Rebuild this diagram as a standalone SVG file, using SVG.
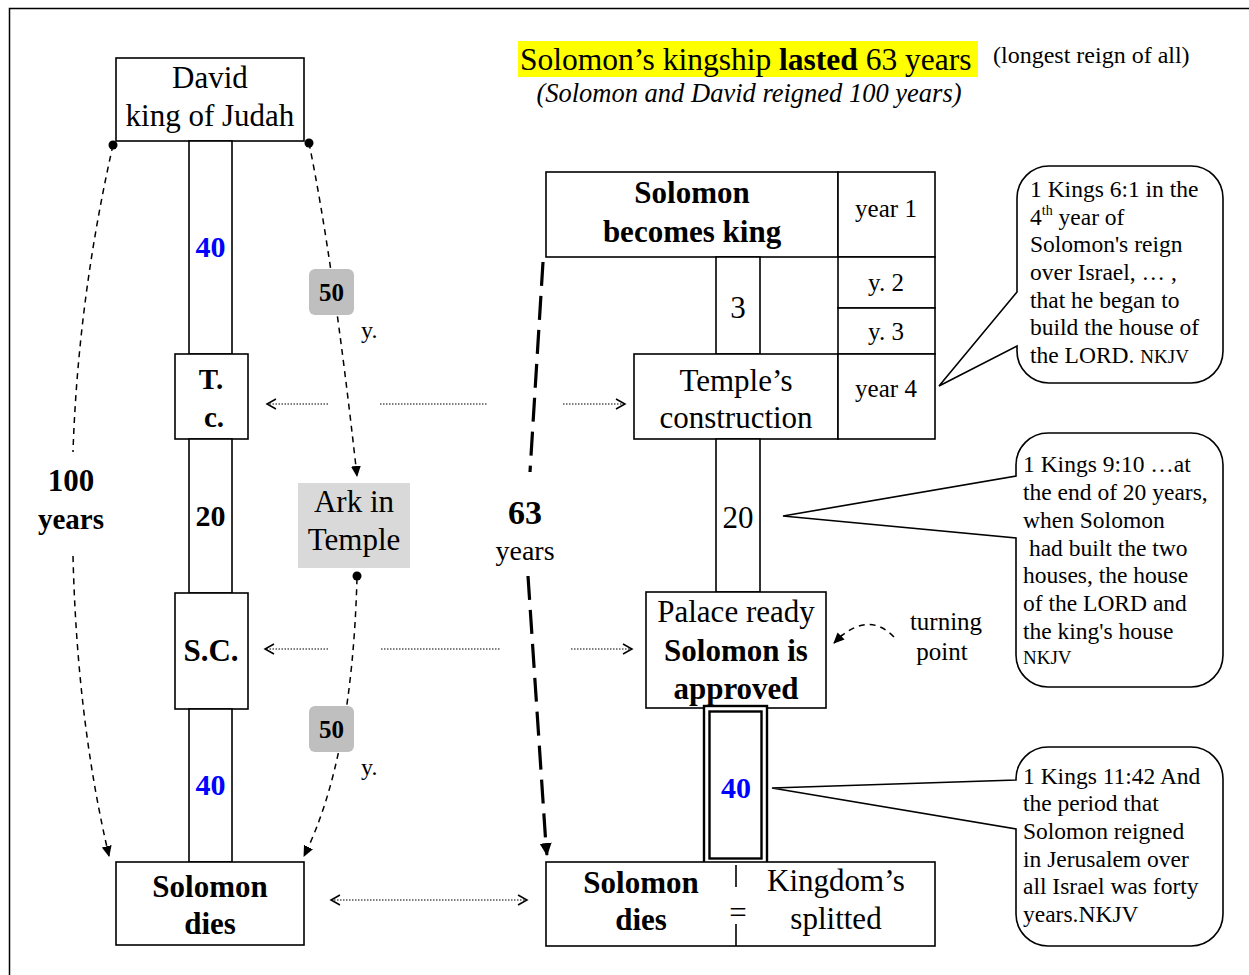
<svg xmlns="http://www.w3.org/2000/svg" width="1249" height="975" viewBox="0 0 1249 975">
<style>
text{font-family:"Liberation Serif","Times New Roman",serif;fill:#000}
.b{font-weight:bold}
.c{text-anchor:middle}
.big{font-size:31px}
.med{font-size:25px}
.note{font-size:23.5px}
.small{font-size:19px}
.blue{fill:#0000ff}
.box{fill:#fff;stroke:#000;stroke-width:1.6}
.dbl{fill:#fff;stroke:#000;stroke-width:2.4}
.dash{fill:none;stroke:#000;stroke-width:1.5;stroke-dasharray:6 5}
.dot{fill:none;stroke:#000;stroke-width:1.2;stroke-dasharray:1.5 1.5}
.thick{fill:none;stroke:#000;stroke-width:3.2;stroke-dasharray:24 10}
.call{fill:#fff;stroke:#000;stroke-width:1.6}
</style>
<defs>
<marker id="open" markerWidth="12" markerHeight="12" refX="10" refY="6" orient="auto-start-reverse" markerUnits="userSpaceOnUse">
<path d="M1,1 L10,6 L1,11" fill="none" stroke="#000" stroke-width="1.5"/>
</marker>
<marker id="fill" markerWidth="12" markerHeight="12" refX="10" refY="6" orient="auto" markerUnits="userSpaceOnUse">
<path d="M0,1 L11,6 L0,11 Z" fill="#000"/>
</marker>
<marker id="fillbig" markerWidth="14" markerHeight="14" refX="12" refY="7" orient="auto" markerUnits="userSpaceOnUse">
<path d="M0,1 L13,7 L0,13 Z" fill="#000"/>
</marker>
</defs>
<rect width="1249" height="975" fill="#fff"/>
<rect x="9.5" y="8.5" width="1300" height="1100" fill="none" stroke="#000" stroke-width="1.5"/>

<g id="title">
<rect x="518" y="41" width="460" height="36" fill="#ffff00"/>
<text x="520" y="70" font-size="31.5">Solomon’s kingship <tspan class="b">lasted</tspan> 63 years</text>
<text x="993" y="63" font-size="24">(longest reign of all)</text>
<text x="749" y="102" class="c" font-size="26.5" font-style="italic">(Solomon and David reigned 100 years)</text>
</g>

<g id="connectors">
<circle cx="113" cy="145" r="4.5" fill="#000"/>
<circle cx="309" cy="143" r="4.5" fill="#000"/>
<circle cx="357" cy="576" r="4.5" fill="#000"/>
<path class="dash" d="M113,145 Q78,300 73,452"/>
<path class="dash" d="M73,556 Q77,720 109,856" marker-end="url(#fill)"/>
<path class="dash" d="M309,143 Q333,260 357,476" marker-end="url(#fill)"/>
<path class="dash" d="M357,578 Q352,760 304,856" marker-end="url(#fill)"/>
<path class="thick" d="M543,262 L530,472"/>
<path class="thick" d="M528,576 L546,846"/>
<path d="M546,846 L547,855" stroke="#000" stroke-width="3" marker-end="url(#fillbig)"/>
<path class="dot" d="M328,404 L267,404" marker-end="url(#open)"/>
<path class="dot" d="M380,404 L488,404"/>
<path class="dot" d="M563,404 L625,404" marker-end="url(#open)"/>
<path class="dot" d="M328,649 L265,649" marker-end="url(#open)"/>
<path class="dot" d="M381,649 L500,649"/>
<path class="dot" d="M571,649 L632,649" marker-end="url(#open)"/>
<path class="dot" d="M331,900 L527,900" marker-start="url(#open)" marker-end="url(#open)"/>
<path d="M894,637 Q870,612 840,637" fill="none" stroke="#000" stroke-width="1.5" stroke-dasharray="6 5"/>
<path d="M842,635 L834,643" stroke="#000" stroke-width="1.5" marker-end="url(#fill)"/>
</g>

<g id="david">
<rect class="box" x="116" y="58" width="188" height="83"/>
<text class="c big" x="210" y="88">David</text>
<text class="c big" x="210" y="126">king of Judah</text>
</g>
<g id="bar-left-40">
<rect class="box" x="189" y="141" width="43" height="213"/>
<text class="c b blue" font-size="30" x="210.5" y="257">40</text>
</g>
<g id="tc">
<rect class="box" x="175" y="354" width="73" height="85"/>
<text class="c b" font-size="29" x="211" y="389">T.</text>
<text class="c b" font-size="29" x="214" y="427">c.</text>
</g>
<g id="bar-left-20">
<rect class="box" x="189" y="439" width="43" height="154"/>
<text class="c b" font-size="30" x="210.5" y="526">20</text>
</g>
<g id="sc">
<rect class="box" x="175" y="593" width="73" height="116"/>
<text class="c b" font-size="31" x="211" y="661">S.C.</text>
</g>
<g id="bar-left-40b">
<rect class="box" x="189" y="709" width="43" height="153"/>
<text class="c b blue" font-size="30" x="210.5" y="795">40</text>
</g>
<g id="solomon-dies-left">
<rect class="box" x="116" y="862" width="188" height="83"/>
<text class="c b big" x="210" y="897">Solomon</text>
<text class="c b big" x="210" y="934">dies</text>
</g>
<g id="label-100">
<text class="c b" font-size="31" x="71" y="491">100</text>
<text class="c b" font-size="29" x="71" y="529">years</text>
</g>
<g id="fifty-top">
<rect x="309" y="269" width="45" height="46" rx="6" fill="#bfbfbf"/>
<text class="c b" font-size="25" x="331.5" y="301">50</text>
<text x="361" y="338" font-size="24">y.</text>
</g>
<g id="ark">
<rect x="298" y="483" width="112" height="85" fill="#d9d9d9"/>
<text class="c big" x="354" y="512">Ark in</text>
<text class="c big" x="354" y="550">Temple</text>
</g>
<g id="fifty-bottom">
<rect x="309" y="706" width="45" height="46" rx="6" fill="#bfbfbf"/>
<text class="c b" font-size="25" x="331.5" y="738">50</text>
<text x="361" y="775" font-size="24">y.</text>
</g>
<g id="label-63">
<text class="c b" font-size="34" x="525" y="524">63</text>
<text class="c" font-size="28" x="525" y="560">years</text>
</g>

<g id="solomon-king">
<rect class="box" x="546" y="172" width="292" height="85"/>
<text class="c b big" x="692" y="203">Solomon</text>
<text class="c b big" x="692" y="242">becomes king</text>
</g>
<g id="year1">
<rect class="box" x="838" y="172" width="97" height="85"/>
<text class="c med" x="886" y="217">year 1</text>
</g>
<g id="y2">
<rect class="box" x="838" y="257" width="97" height="51"/>
<text class="c med" x="886" y="291">y. 2</text>
</g>
<g id="y3">
<rect class="box" x="838" y="308" width="97" height="46"/>
<text class="c med" x="886" y="340">y. 3</text>
</g>
<g id="bar-3">
<rect class="box" x="716" y="257" width="44" height="97"/>
<text class="c big" x="738" y="318">3</text>
</g>
<g id="temple">
<rect class="box" x="634" y="354" width="204" height="85"/>
<text class="c big" x="736" y="391">Temple’s</text>
<text class="c big" x="736" y="428">construction</text>
</g>
<g id="year4">
<rect class="box" x="838" y="354" width="97" height="85"/>
<text class="c med" x="886" y="397">year 4</text>
</g>
<g id="bar-20">
<rect class="box" x="716" y="439" width="44" height="153"/>
<text class="c big" x="738" y="528">20</text>
</g>
<g id="palace">
<rect class="box" x="646" y="592" width="180" height="116"/>
<text class="c big" x="736" y="622">Palace ready</text>
<text class="c b big" x="736" y="661">Solomon is</text>
<text class="c b big" x="736" y="699">approved</text>
</g>
<g id="bar-40">
<rect class="dbl" x="704" y="706" width="63" height="158"/>
<rect class="dbl" x="709.5" y="711.5" width="52" height="147"/>
<text class="c b blue" font-size="30" x="736" y="798">40</text>
</g>
<g id="end">
<rect class="box" x="546" y="862" width="389" height="84"/>
<line x1="736" y1="865" x2="736" y2="887" stroke="#000" stroke-width="1.6"/>
<line x1="736" y1="924" x2="736" y2="946" stroke="#000" stroke-width="1.6"/>
<text class="c big" x="738" y="923">=</text>
<text class="c b big" x="641" y="893">Solomon</text>
<text class="c b big" x="641" y="930">dies</text>
<text class="c big" x="836" y="891">Kingdom’s</text>
<text class="c big" x="836" y="929">splitted</text>
</g>
<g id="turning">
<text class="c med" x="946" y="630">turning</text>
<text class="c med" x="942" y="660">point</text>
</g>

<g id="callout-1">
<path class="call" d="M1049,166 H1191 A32,32 0 0 1 1223,198 V351 A32,32 0 0 1 1191,383 H1049 A32,32 0 0 1 1017,351 V346 L939,386 L1017,292 V198 A32,32 0 0 1 1049,166 Z"/>
<text class="note" x="1030" y="197">1 Kings 6:1 in the</text>
<text class="note" x="1030" y="225">4<tspan font-size="14" dy="-10">th</tspan><tspan dy="10"> year of</tspan></text>
<text class="note" x="1030" y="252">Solomon's reign</text>
<text class="note" x="1030" y="280">over Israel, … ,</text>
<text class="note" x="1030" y="308">that he began to</text>
<text class="note" x="1030" y="335">build the house of</text>
<text class="note" x="1030" y="363">the LORD. <tspan class="small">NKJV</tspan></text>
</g>
<g id="callout-2">
<path class="call" d="M1048,433 H1191 A32,32 0 0 1 1223,465 V655 A32,32 0 0 1 1191,687 H1048 A32,32 0 0 1 1016,655 V538 L783,516 L1016,476 V465 A32,32 0 0 1 1048,433 Z"/>
<text class="note" x="1023" y="472">1 Kings 9:10 …at</text>
<text class="note" x="1023" y="500">the end of 20 years,</text>
<text class="note" x="1023" y="528">when Solomon</text>
<text class="note" x="1023" y="556" xml:space="preserve"> had built the two</text>
<text class="note" x="1023" y="583">houses, the house</text>
<text class="note" x="1023" y="611">of the LORD and</text>
<text class="note" x="1023" y="639">the king's house</text>
<text class="small" x="1023" y="664">NKJV</text>
</g>
<g id="callout-3">
<path class="call" d="M1048,747 H1191 A32,32 0 0 1 1223,779 V914 A32,32 0 0 1 1191,946 H1048 A32,32 0 0 1 1016,914 V829 L772,788 L1016,780 V779 A32,32 0 0 1 1048,747 Z"/>
<text class="note" x="1023" y="784">1 Kings 11:42 And</text>
<text class="note" x="1023" y="811">the period that</text>
<text class="note" x="1023" y="839">Solomon reigned</text>
<text class="note" x="1023" y="867">in Jerusalem over</text>
<text class="note" x="1023" y="894">all Israel was forty</text>
<text class="note" x="1023" y="922">years.NKJV</text>
</g>
</svg>
